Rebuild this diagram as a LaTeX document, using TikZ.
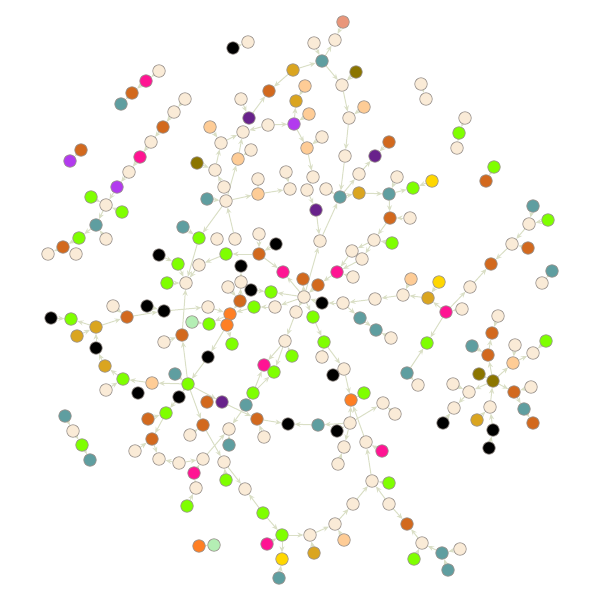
\documentclass[tikz,border=0pt]{standalone}
\usetikzlibrary{arrows.meta,backgrounds}
\definecolor{cCr}{HTML}{FAEBD7}
\definecolor{cPe}{HTML}{FECC96}
\definecolor{cTe}{HTML}{5F9EA0}
\definecolor{cCh}{HTML}{7FFF00}
\definecolor{cCo}{HTML}{D2691E}
\definecolor{cPk}{HTML}{FF1493}
\definecolor{cPu}{HTML}{B23AEE}
\definecolor{cDp}{HTML}{68228B}
\definecolor{cGr}{HTML}{DAA520}
\definecolor{cOl}{HTML}{8B7500}
\definecolor{cGo}{HTML}{FFD700}
\definecolor{cOr}{HTML}{FF7F24}
\definecolor{cLg}{HTML}{B4EEB4}
\definecolor{cSa}{HTML}{E9967A}
\definecolor{cEd}{HTML}{DADFC6}
\definecolor{cBd}{HTML}{9C9590}
\tikzset{
  nd/.style={circle,minimum size=12.5pt,inner sep=0pt,draw=cBd,line width=0.75pt},
  cr/.style={nd,fill=cCr}, pe/.style={nd,fill=cPe}, te/.style={nd,fill=cTe},
  ch/.style={nd,fill=cCh}, co/.style={nd,fill=cCo}, pk/.style={nd,fill=cPk},
  pu/.style={nd,fill=cPu}, dp/.style={nd,fill=cDp}, gr/.style={nd,fill=cGr},
  ol/.style={nd,fill=cOl}, go/.style={nd,fill=cGo}, bk/.style={nd,fill=black},
  or/.style={nd,fill=cOr}, lg/.style={nd,fill=cLg}, sa/.style={nd,fill=cSa},
  ed/.style={draw=cEd,line width=1pt,-{Stealth[length=6pt,width=5pt]}}
}
\newcommand\mynd[4]{\node[#1] (#2) at (#3,#4) {};}
\begin{document}
\begin{tikzpicture}[x=1pt,y=-1pt]
\useasboundingbox (0,0) rectangle (600,600);
% chain A
\mynd{cr}{a1}{159}{71}\mynd{pk}{a2}{146}{81}\mynd{co}{a3}{132}{93}\mynd{te}{a4}{121}{104}
% chain B
\mynd{cr}{b1}{185}{99}\mynd{cr}{b2}{174}{112}\mynd{co}{b3}{163}{127}\mynd{cr}{b4}{151}{142}
\mynd{pk}{b5}{140}{157}\mynd{cr}{b6}{129}{172}\mynd{pu}{b7}{117}{187}
\mynd{co}{c1}{81}{150}\mynd{pu}{c2}{70}{161}
% D
\mynd{ch}{d1}{91}{197}\mynd{cr}{d2}{106}{205}\mynd{ch}{d3}{122}{212}\mynd{te}{d4}{96}{225}
\mynd{ch}{d5}{79}{238}\mynd{cr}{d6}{106}{239}\mynd{co}{d7}{63}{247}\mynd{cr}{d8}{48}{254}
\mynd{cr}{d9}{76}{254}
% E top
\mynd{sa}{e1}{343}{22}\mynd{cr}{e2}{335}{40}\mynd{cr}{e3}{314}{43}\mynd{te}{e4}{322}{61}
\mynd{gr}{e5}{293}{70}\mynd{ol}{e6}{356}{72}\mynd{cr}{e7}{342}{85}\mynd{co}{e8}{269}{91}
\mynd{pe}{e9}{305}{86}\mynd{gr}{e10}{296}{101}\mynd{cr}{e11}{241}{99}\mynd{pe}{e12}{364}{107}
\mynd{cr}{e13}{349}{118}\mynd{dp}{e14}{249}{118}\mynd{cr}{e15}{268}{125}\mynd{pu}{e16}{294}{124}
\mynd{pe}{e17}{309}{114}\mynd{pe}{e18}{210}{127}\mynd{cr}{e19}{243}{132}\mynd{cr}{e20}{322}{137}
\mynd{cr}{e21}{221}{143}\mynd{pe}{e22}{307}{148}\mynd{cr}{e23}{251}{150}\mynd{co}{e24}{389}{142}
\mynd{dp}{e25}{375}{156}\mynd{cr}{e26}{345}{156}\mynd{pe}{e27}{238}{159}\mynd{ol}{e28}{197}{163}
\mynd{cr}{e29}{215}{170}\mynd{cr}{e30}{286}{172}\mynd{cr}{e31}{258}{179}\mynd{cr}{e32}{313}{177}
\mynd{cr}{e33}{359}{174}\mynd{cr}{e34}{397}{177}\mynd{cr}{e35}{224}{187}\mynd{pe}{e36}{258}{194}
\mynd{cr}{e37}{290}{189}\mynd{cr}{e38}{307}{190}\mynd{cr}{e39}{326}{189}\mynd{te}{e40}{340}{197}
\mynd{gr}{e41}{359}{193}\mynd{te}{e42}{389}{194}\mynd{te}{e43}{207}{199}\mynd{cr}{e44}{226}{201}
\mynd{bk}{k1}{233}{48}\mynd{cr}{k2}{248}{42}
% R
\mynd{cr}{r1}{421}{84}\mynd{cr}{r2}{426}{99}\mynd{cr}{r3}{465}{118}\mynd{ch}{r4}{459}{133}
\mynd{cr}{r5}{457}{148}\mynd{ch}{r6}{494}{167}\mynd{co}{r7}{486}{181}\mynd{go}{r8}{432}{181}
\mynd{ch}{r9}{413}{188}
% M center
\mynd{dp}{m1}{316}{210}\mynd{co}{m2}{390}{218}\mynd{cr}{m3}{410}{218}\mynd{cr}{m4}{320}{241}
\mynd{cr}{m5}{374}{240}\mynd{ch}{m6}{392}{243}\mynd{cr}{m7}{352}{251}\mynd{cr}{m8}{362}{259}
\mynd{pk}{m9}{337}{272}\mynd{cr}{m10}{353}{277}\mynd{co}{m11}{318}{285}\mynd{co}{m12}{303}{279}
\mynd{pk}{m13}{283}{272}\mynd{cr}{m14}{304}{297}\mynd{bk}{m15}{322}{303}\mynd{cr}{m16}{343}{303}
\mynd{cr}{m17}{375}{299}\mynd{cr}{m18}{403}{295}\mynd{pe}{m19}{411}{279}\mynd{go}{m20}{439}{282}
\mynd{gr}{m21}{428}{298}\mynd{cr}{m22}{296}{312}\mynd{ch}{m23}{313}{317}\mynd{te}{m24}{360}{318}
\mynd{te}{m25}{376}{330}\mynd{cr}{m26}{391}{338}\mynd{cr}{m27}{285}{341}\mynd{ch}{m28}{324}{342}
\mynd{ch}{m29}{292}{356}\mynd{cr}{m30}{322}{357}\mynd{cr}{m31}{344}{369}\mynd{bk}{m32}{333}{375}
\mynd{or}{m33}{351}{400}\mynd{ch}{m34}{364}{393}
% L
\mynd{te}{l1}{183}{227}\mynd{ch}{l2}{199}{238}\mynd{cr}{l3}{217}{239}\mynd{cr}{l4}{235}{239}
\mynd{cr}{l5}{259}{234}\mynd{bk}{l6}{276}{244}\mynd{ch}{l7}{226}{254}\mynd{co}{l8}{259}{254}
\mynd{bk}{l9}{159}{255}\mynd{ch}{l10}{178}{264}\mynd{cr}{l11}{199}{265}\mynd{bk}{l12}{241}{266}
\mynd{ch}{l13}{167}{283}\mynd{cr}{l14}{186}{283}\mynd{cr}{l15}{241}{282}\mynd{cr}{l16}{228}{287}
\mynd{bk}{l17}{251}{290}\mynd{ch}{l18}{271}{292}\mynd{co}{l19}{240}{301}\mynd{ch}{l20}{254}{307}
\mynd{cr}{l21}{275}{307}\mynd{cr}{l22}{208}{307}\mynd{bk}{l23}{147}{306}\mynd{bk}{l24}{164}{311}
\mynd{or}{l25}{230}{314}\mynd{lg}{l26}{192}{322}\mynd{ch}{l27}{209}{324}\mynd{or}{l28}{227}{325}
\mynd{co}{l29}{182}{335}\mynd{cr}{l30}{164}{342}\mynd{ch}{l31}{232}{344}\mynd{bk}{l32}{208}{357}
% F
\mynd{bk}{f1}{51}{318}\mynd{ch}{f2}{71}{319}\mynd{gr}{f3}{96}{327}\mynd{cr}{f4}{113}{306}
\mynd{co}{f5}{127}{317}\mynd{gr}{f6}{77}{336}\mynd{bk}{f7}{96}{348}\mynd{gr}{f8}{105}{366}
\mynd{ch}{f9}{123}{379}\mynd{cr}{f10}{106}{390}\mynd{pe}{f11}{152}{383}\mynd{te}{f12}{175}{374}
\mynd{ch}{f13}{188}{384}\mynd{bk}{f14}{138}{393}\mynd{bk}{f15}{179}{397}
% G
\mynd{te}{g1}{65}{416}\mynd{cr}{g2}{73}{431}\mynd{ch}{g3}{82}{445}\mynd{te}{g4}{90}{460}
\mynd{ch}{g5}{166}{413}\mynd{co}{g6}{148}{419}\mynd{co}{g7}{152}{439}\mynd{cr}{g8}{135}{451}
\mynd{cr}{g9}{159}{459}\mynd{cr}{g10}{179}{463}\mynd{cr}{g11}{203}{459}\mynd{pk}{g12}{194}{473}
\mynd{cr}{g13}{196}{488}\mynd{ch}{g14}{187}{506}\mynd{co}{g15}{203}{425}\mynd{cr}{g16}{190}{435}
% H
\mynd{co}{h1}{207}{402}\mynd{dp}{h2}{222}{402}\mynd{te}{h3}{246}{405}\mynd{ch}{h4}{253}{393}
\mynd{pk}{h5}{264}{365}\mynd{ch}{h6}{274}{372}\mynd{co}{h7}{257}{419}\mynd{bk}{h8}{288}{424}
\mynd{te}{h9}{318}{425}\mynd{cr}{h10}{350}{423}\mynd{bk}{h11}{337}{431}\mynd{cr}{h12}{229}{429}
\mynd{cr}{h13}{264}{437}\mynd{te}{h14}{229}{445}\mynd{cr}{h15}{224}{462}\mynd{ch}{h16}{226}{480}
\mynd{cr}{h17}{245}{489}\mynd{ch}{h18}{263}{513}\mynd{ch}{h19}{282}{535}\mynd{pk}{h20}{267}{544}
\mynd{go}{h21}{282}{559}\mynd{te}{h22}{279}{578}\mynd{cr}{h23}{310}{535}\mynd{gr}{h24}{314}{553}
\mynd{cr}{h25}{335}{524}\mynd{pe}{h26}{344}{540}\mynd{cr}{h27}{353}{504}\mynd{cr}{h28}{372}{481}
\mynd{ch}{h29}{389}{483}\mynd{cr}{h30}{389}{504}\mynd{cr}{h31}{366}{442}\mynd{pk}{h32}{382}{451}
\mynd{cr}{h33}{344}{447}\mynd{cr}{h34}{338}{464}\mynd{cr}{h35}{383}{403}\mynd{cr}{h36}{395}{414}
\mynd{or}{h37}{199}{546}\mynd{lg}{h38}{214}{545}
% P
\mynd{te}{p1}{533}{206}\mynd{ch}{p2}{548}{220}\mynd{cr}{p3}{529}{224}\mynd{cr}{p4}{512}{244}
\mynd{co}{p5}{528}{248}\mynd{co}{p6}{491}{264}\mynd{te}{p7}{552}{271}\mynd{cr}{p8}{542}{283}
\mynd{cr}{p9}{470}{287}\mynd{pk}{p10}{446}{312}\mynd{cr}{p11}{462}{309}\mynd{ch}{p12}{427}{343}
\mynd{te}{p13}{407}{373}\mynd{cr}{p14}{418}{385}
% Q
\mynd{cr}{q1}{498}{316}\mynd{co}{q2}{492}{333}\mynd{te}{q3}{472}{346}\mynd{co}{q4}{488}{355}
\mynd{cr}{q5}{515}{345}\mynd{ch}{q6}{546}{341}\mynd{cr}{q7}{533}{353}\mynd{pe}{q8}{513}{363}
\mynd{ol}{q9}{479}{374}\mynd{ol}{q10}{493}{381}\mynd{cr}{q11}{453}{384}\mynd{cr}{q12}{469}{392}
\mynd{co}{q13}{514}{392}\mynd{cr}{q14}{531}{387}\mynd{cr}{q15}{454}{408}\mynd{cr}{q16}{490}{407}
\mynd{te}{q17}{524}{409}\mynd{bk}{q18}{443}{423}\mynd{gr}{q19}{477}{420}\mynd{co}{q20}{533}{423}
\mynd{bk}{q21}{493}{430}\mynd{bk}{q22}{489}{448}
% S
\mynd{co}{s1}{407}{524}\mynd{cr}{s2}{422}{543}\mynd{te}{s3}{442}{553}\mynd{cr}{s4}{460}{549}
\mynd{ch}{s5}{414}{559}\mynd{te}{s6}{448}{570}
\begin{pgfonlayer}{background}
\foreach \a/\b in {a1/a2,a2/a3,a3/a4,b1/b2,b2/b3,b3/b4,b4/b5,b5/b6,b6/b7,b7/d2,c1/c2,
 d1/d2,d3/d2,d2/d4,d6/d4,d4/d5,d5/d7,d7/d8,
 e1/e2,e4/e2,e3/e4,e5/e4,e4/e7,e6/e7,e5/e8,e14/e8,e11/e14,e7/e13,e12/e13,e13/e26,
 e15/e16,e15/e19,e16/e10,e9/e10,e17/e16,e16/e22,e20/e22,e22/e32,e32/e38,e38/m1,
 e21/e19,e18/e21,e29/e21,e28/e29,e35/e29,e44/e27,e27/e19,e23/e27,e31/e36,e44/e36,
 e36/e37,e30/e37,e26/e40,e40/e33,e33/e25,e24/e25,e40/e41,e41/e42,e34/e42,e42/r9,
 e39/e40,e43/e44,k1/k2,
 r1/r2,r3/r4,r4/r5,r6/r7,r8/r9,
 e42/m2,m3/m2,m2/m5,m6/m5,m5/m7,m5/m8,m7/m9,m8/m9,m10/m9,m9/m11,m11/m14,m14/m12,
 m14/m13,m14/m4,m1/m4,m4/e40,m16/m15,m15/m14,m17/m16,m18/m17,m21/m18,m19/m18,
 m20/m21,m16/m24,m24/m25,m26/m25,m14/m22,m22/m27,m14/m23,m23/m28,m29/m27,m30/m28,
 m28/m31,m31/m32,m31/m33,m34/m33,
 e44/l2,l4/e44,l1/l2,l2/l14,l11/l14,l10/l14,l9/l10,l13/l14,l7/l11,l8/l7,l5/l8,l6/l8,
 l8/m13,l15/l12,l19/l15,l16/l19,l17/l18,m14/l18,m14/l21,l21/l20,l20/l25,l19/l25,
 l22/l25,l25/l27,l26/l27,l25/l28,l28/l31,l28/l32,l24/l22,l23/l24,l29/l14,l30/l29,
 f1/f2,f3/f2,f3/f5,f4/f5,f5/l24,f6/f3,f7/f3,f8/f7,f9/f8,f11/f9,f10/f9,f13/f11,
 f12/f13,f13/l29,l32/f13,f13/f15,f15/g5,
 g1/g2,g2/g3,g3/g4,g6/g5,g5/g7,g8/g7,g7/g9,g10/g9,g10/g11,g12/g11,g13/g12,g14/g13,
 f13/g15,g16/g15,g15/h15,
 f13/h2,h2/h7,h7/h8,h9/h8,h10/h9,h11/h10,h13/h7,h4/h3,h3/h12,h14/h12,g11/h12,
 h16/h15,h15/h17,h18/h17,h18/h19,h20/h19,h19/h21,h22/h21,h19/h23,h24/h23,h23/h25,
 h26/h25,h25/h27,h27/h28,h29/h28,h30/h28,h28/h31,h32/h31,h31/m33,h10/m33,h10/h33,
 h34/h33,h10/h35,h36/h35,m27/h5,h4/h5,h4/h6,m27/h6,h30/s1,h37/h38,
 p1/p3,p2/p3,p3/p4,p5/p4,p4/p6,p9/p6,p10/p9,p11/p10,p10/m21,p10/p12,p13/p12,p13/p14,p7/p8,
 q1/q2,q4/q2,q3/q4,q10/q4,q10/q8,q5/q8,q8/q7,q6/q7,q10/q12,q9/q10,q11/q12,q10/q13,
 q14/q13,q12/q15,q18/q15,q16/q10,q19/q16,q21/q16,q22/q21,q13/q17,q17/q20,
 s2/s1,s3/s2,s4/s3,s6/s3,s5/s2}
 \draw[ed] (\a) -- (\b);
\end{pgfonlayer}
\end{tikzpicture}
\end{document}
